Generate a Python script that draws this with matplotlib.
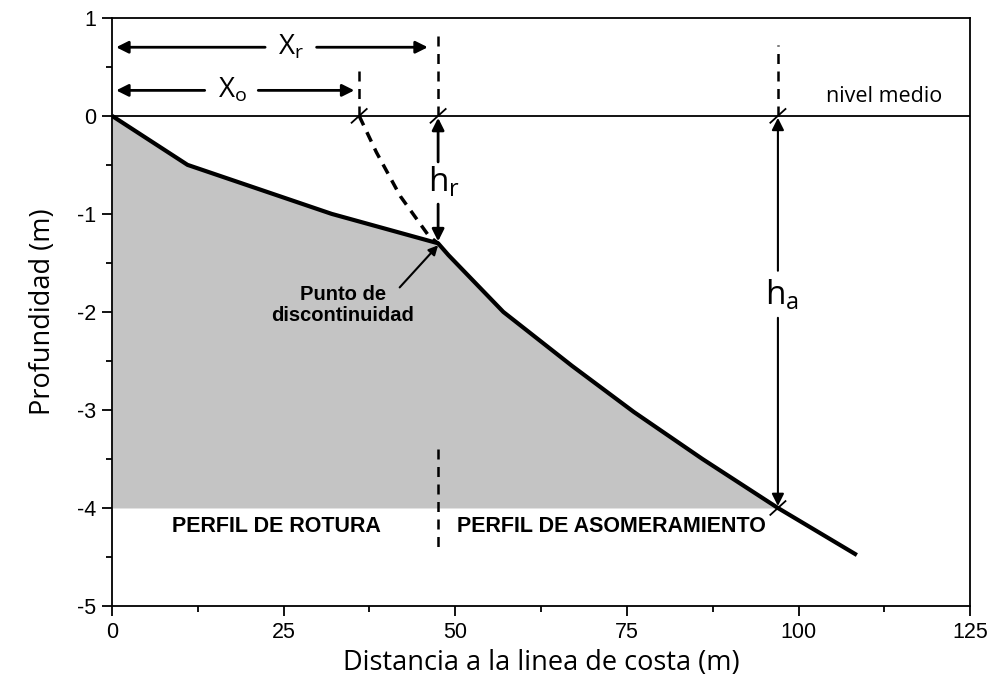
import matplotlib
matplotlib.use("Agg")
import matplotlib.pyplot as plt
from matplotlib.ticker import MultipleLocator
import numpy as np

plt.rcParams['mathtext.default'] = 'regular'
plt.rcParams['axes.unicode_minus'] = False

# Data
profile_x = [0, 11, 32, 47.5, 49, 57, 67, 76, 86, 97, 108.5]
profile_y = [0, -0.5, -1.0, -1.3, -1.42, -2.0, -2.55, -3.02, -3.5, -4.0, -4.48]
dashed_x = [36, 38.5, 42, 46.2, 47.5]
dashed_y = [0, -0.37, -0.82, -1.23, -1.3]
x_o = 36
x_r = 47.5
h_r = -1.3
x_a = 97
h_a = -4.0
fill_base = -4.0

fig = plt.figure(figsize=(9.95, 6.86), dpi=100)
ax = fig.add_axes([0.1126, 0.1166, 0.8624, 0.8574])
ax.set_xlim(0, 125)
ax.set_ylim(-5, 1)

px = np.array(profile_x); py = np.array(profile_y)
ax.fill_between(px, py, fill_base, where=py >= fill_base - 1e-9, color='#c4c4c4', lw=0,
                interpolate=True, zorder=1)
ax.plot(profile_x, profile_y, color='black', lw=3, zorder=3, solid_capstyle='butt')
ax.axhline(0, color='black', lw=1.3, zorder=2)
ax.plot(dashed_x, dashed_y, color='black', lw=2.5, ls=(0, (3, 2.2)), zorder=3)

# vertical dashed lines
dk = dict(color='black', lw=1.8, ls=(0, (4, 3)), zorder=3)
ax.plot([x_o, x_o], [0, 0.53], **dk)
ax.plot([x_r, x_r], [0, 0.85], **dk)
ax.plot([x_a, x_a], [0, 0.72], **dk)
ax.plot([x_r, x_r], [-3.4, -4.42], **dk)

# small slash marks at the intersections
for xv, yv in [(x_o, 0), (x_r, 0), (x_a, 0), (x_a, h_a)]:
    ax.plot([xv - 1.1, xv + 1.1], [yv - 0.07, yv + 0.07], color='black', lw=1.3, zorder=4)

# arrows
ak = dict(arrowstyle='-|>', color='black', lw=2, mutation_scale=18, shrinkA=0, shrinkB=0)
ax.annotate('', xy=(0.6, 0.7), xytext=(22.3, 0.7), arrowprops=ak)
ax.annotate('', xy=(46.0, 0.7), xytext=(29.8, 0.7), arrowprops=ak)
ax.text(26.0, 0.7, 'X$_r$', fontsize=20, family='Open Sans', ha='center', va='center')
ax.annotate('', xy=(0.6, 0.26), xytext=(13.5, 0.26), arrowprops=ak)
ax.annotate('', xy=(35.3, 0.26), xytext=(21.3, 0.26), arrowprops=ak)
ax.text(17.6, 0.26, 'X$_o$', fontsize=20, family='Open Sans', ha='center', va='center')

ax.annotate('', xy=(x_r, -0.02), xytext=(x_r, -0.47), arrowprops=ak)
ax.annotate('', xy=(x_r, h_r + 0.02), xytext=(x_r, -0.9), arrowprops=ak)
ax.text(x_r + 0.9, -0.68, 'h$_r$', fontsize=24, family='Open Sans', ha='center', va='center')

ak2 = dict(arrowstyle='-|>', color='black', lw=1.5, mutation_scale=18, shrinkA=0, shrinkB=0)
ax.annotate('', xy=(x_a, -0.02), xytext=(x_a, -1.58), arrowprops=ak2)
ax.annotate('', xy=(x_a, h_a + 0.02), xytext=(x_a, -2.06), arrowprops=ak2)
ax.text(x_a + 0.6, -1.83, 'h$_a$', fontsize=24, family='Open Sans', ha='center', va='center')

# Punto de discontinuidad
ax.annotate('', xy=(47.5, -1.32), xytext=(41.9, -1.75),
            arrowprops=dict(arrowstyle='-|>', color='black', lw=1.5, mutation_scale=14,
                            shrinkA=0, shrinkB=0))
ax.text(33.6, -1.93, 'Punto de\ndiscontinuidad', fontsize=14.5, fontweight='bold',
        family='Liberation Sans', ha='center', va='center', linespacing=1.1)

ax.text(112.5, 0.2, 'nivel medio', fontsize=15.5, family='Open Sans', ha='center', va='center')
ax.text(24, -4.19, 'PERFIL DE ROTURA', fontsize=15.5, fontweight='bold', family='Liberation Sans',
        ha='center', va='center')
ax.text(72.8, -4.19, 'PERFIL DE ASOMERAMIENTO', fontsize=15.5, fontweight='bold',
        family='Liberation Sans', ha='center', va='center')

# axes styling
ax.xaxis.set_major_locator(MultipleLocator(25))
ax.xaxis.set_minor_locator(MultipleLocator(12.5))
ax.yaxis.set_major_locator(MultipleLocator(1))
ax.yaxis.set_minor_locator(MultipleLocator(0.5))
ax.tick_params(which='major', direction='out', length=7.5, width=1.3, labelsize=15.5,
               top=False, right=False, pad=4)
ax.tick_params(which='minor', direction='out', length=4, width=1.3, top=False, right=False)
for lab in ax.get_xticklabels() + ax.get_yticklabels():
    lab.set_family('Liberation Sans')
for s in ax.spines.values():
    s.set_linewidth(1.3)

ax.set_xlabel('Distancia a la linea de costa (m)', fontsize=19.5, family='Open Sans', labelpad=4)
ax.set_ylabel('Profundidad (m)', fontsize=19.5, family='Open Sans', labelpad=14)

fig.savefig('out.png', dpi=100)
